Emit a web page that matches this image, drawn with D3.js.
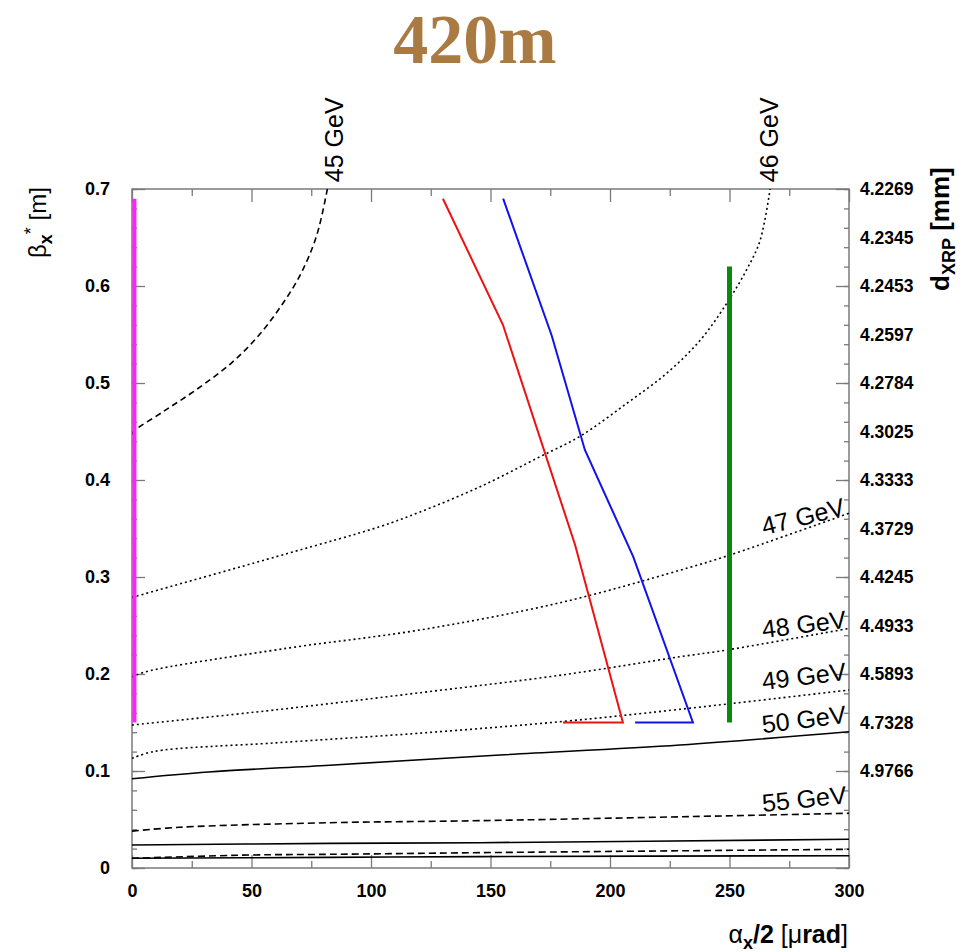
<!DOCTYPE html>
<html>
<head>
<meta charset="utf-8">
<script src="https://cdn.jsdelivr.net/npm/d3@7"></script>
<style>
  body { margin: 0; background: #fff; }
  svg { display: block; }
</style>
</head>
<body>
<script>
var w = 980;
var h = 952;

// axis ticks
var xMajor = [0, 50, 100, 150, 200, 250, 300];
var xMinor = [25, 75, 125, 175, 225, 275];
var yMajor = [0, 0.1, 0.2, 0.3, 0.4, 0.5, 0.6, 0.7];
var yMinor = d3.range(0, 0.701, 0.02);
var rightBeta = [0.7, 0.65, 0.6, 0.55, 0.5, 0.45, 0.4, 0.35, 0.3, 0.25, 0.2, 0.15, 0.1];
var rightLabels = ["4.2269", "4.2345", "4.2453", "4.2597", "4.2784", "4.3025", "4.3333",
                   "4.3729", "4.4245", "4.4933", "4.5893", "4.7328", "4.9766"];

// energy curves [alpha/2, beta*]
var e45 = [[0, 0.447], [0.5, 0.4498], [13.1, 0.4705], [27.1, 0.4935], [41.0, 0.5193], [52.2, 0.5467],
           [61.9, 0.5777], [70.3, 0.611], [77.3, 0.6523], [82.5, 0.71]];
var e46 = [[0, 0.279], [64.7, 0.324], [103.8, 0.352], [120.5, 0.367], [145.6, 0.393], [170.7, 0.424],
           [187.4, 0.445], [207, 0.479], [223.7, 0.51], [237.7, 0.544], [248.8, 0.582],
           [257.2, 0.617], [262.8, 0.647], [267.6, 0.71]];
var e47 = [[0, 0.197], [5.9, 0.2024], [64.7, 0.2265], [120.5, 0.2454], [180, 0.274],
           [229.3, 0.307], [250.2, 0.3227], [300, 0.3657]];
var e48 = [[0, 0.1474], [60, 0.163], [120.5, 0.1807], [180, 0.199], [229.3, 0.2178],
           [248.8, 0.2247], [300, 0.247]];
var e49 = [[0, 0.113], [8.9, 0.12], [60, 0.129], [120.5, 0.139], [180, 0.151],
           [229.3, 0.1636], [300, 0.1835]];
var e50 = [[0, 0.092], [32, 0.099], [82.8, 0.106], [154, 0.1165], [229.3, 0.1268], [300, 0.1405]];
var e55 = [[0, 0.038], [20, 0.042], [82.8, 0.0467], [145.6, 0.0488], [300, 0.0564]];
var eLowA = [[0, 0.0237], [82.8, 0.0254], [145.6, 0.0261], [300, 0.0296]];
var eLowB = [[0, 0.010], [49.4, 0.0134], [82.8, 0.0141], [145.6, 0.0158], [300, 0.0193]];
var eLowC = [[0, 0.010], [82.8, 0.011], [145.6, 0.0117], [300, 0.0127]];

// acceptance limits
var redLimit = [[130.1, 0.69], [155.2, 0.56], [185.4, 0.333], [205.4, 0.15], [180.3, 0.15]];
var blueLimit = [[155.3, 0.69], [175.6, 0.549], [189.5, 0.431], [209.7, 0.321], [234.7, 0.15], [210.5, 0.15]];
var magentaLimit = [[1, 0.69], [1, 0.15]];
var greenLimit = [[250, 0.62], [250, 0.15]];

var svg = d3.select("body").append("svg")
  .attr("width", w)
  .attr("height", h);

var x = d3.scaleLinear().domain([0, 300]).range([132, 849]);
var y = d3.scaleLinear().domain([0, 0.7]).range([868, 189]);

var frameColor = "#7a7a7a";

// title
svg.append("text")
  .attr("x", 475)
  .attr("y", 63)
  .attr("text-anchor", "middle")
  .attr("font-family", "'Liberation Serif', 'DejaVu Serif', serif")
  .attr("font-weight", "bold")
  .attr("font-size", 70)
  .attr("fill", "#a97b42")
  .text("420m");

// frame
svg.append("rect")
  .attr("x", x(0))
  .attr("y", y(0.7))
  .attr("width", x(300) - x(0))
  .attr("height", y(0) - y(0.7))
  .attr("fill", "none")
  .attr("stroke", frameColor)
  .attr("stroke-width", 1.5);

function styleAxis(g) {
  g.select(".domain").remove();
  g.selectAll(".tick line").attr("stroke", frameColor).attr("stroke-width", 1.3);
  g.selectAll("text")
    .attr("font-family", "'Liberation Sans', Arial, sans-serif")
    .attr("font-weight", "bold")
    .attr("font-size", 18)
    .attr("fill", "#000");
}

// bottom
svg.append("g").attr("transform", "translate(0," + y(0) + ")")
  .call(d3.axisBottom(x).tickValues(xMajor).tickSizeInner(-13).tickSizeOuter(0).tickPadding(16).tickFormat(d3.format("d")))
  .call(styleAxis);
svg.append("g").attr("transform", "translate(0," + y(0) + ")")
  .call(d3.axisBottom(x).tickValues(xMinor).tickSizeInner(-7).tickSizeOuter(0).tickFormat(""))
  .call(styleAxis);
// top
svg.append("g").attr("transform", "translate(0," + y(0.7) + ")")
  .call(d3.axisTop(x).tickValues(xMajor).tickSizeInner(-13).tickSizeOuter(0).tickFormat(""))
  .call(styleAxis);
svg.append("g").attr("transform", "translate(0," + y(0.7) + ")")
  .call(d3.axisTop(x).tickValues(xMinor).tickSizeInner(-7).tickSizeOuter(0).tickFormat(""))
  .call(styleAxis);
// left
svg.append("g").attr("transform", "translate(" + x(0) + ",0)")
  .call(d3.axisLeft(y).tickValues(yMinor).tickSizeInner(-5).tickSizeOuter(0).tickFormat(""))
  .call(styleAxis);
svg.append("g").attr("transform", "translate(" + x(0) + ",0)")
  .call(d3.axisLeft(y).tickValues(yMajor).tickSizeInner(-13).tickSizeOuter(0).tickPadding(22).tickFormat(d3.format(".1~f")))
  .call(styleAxis);
// right
svg.append("g").attr("transform", "translate(" + x(300) + ",0)")
  .call(d3.axisRight(y).tickValues(yMinor).tickSizeInner(-5).tickSizeOuter(0).tickFormat(""))
  .call(styleAxis);
svg.append("g").attr("transform", "translate(" + x(300) + ",0)")
  .call(d3.axisRight(y).tickValues(yMajor).tickSizeInner(-13).tickSizeOuter(0).tickFormat(""))
  .call(styleAxis);
svg.append("g").attr("transform", "translate(" + x(300) + ",0)")
  .call(d3.axisRight(y).tickValues(rightBeta).tickSize(0).tickPadding(11)
    .tickFormat(function(d, i) { return rightLabels[i]; }))
  .call(styleAxis)
  .call(function(g) { g.selectAll("text").attr("font-size", 17.5); });

// axis titles
var yTitle = svg.append("text")
  .attr("transform", "translate(46,258) rotate(-90)")
  .attr("font-family", "'Liberation Sans', Arial, sans-serif")
  .attr("font-size", 24);
yTitle.append("tspan").text("β");
yTitle.append("tspan").attr("font-weight", "bold").attr("font-size", 18).attr("dy", 6).text("x");
yTitle.append("tspan").attr("font-size", 18).attr("dy", -15).text("*");
yTitle.append("tspan").attr("dy", 9).text(" [m]");

var rTitle = svg.append("text")
  .attr("transform", "translate(949,291) rotate(-90)")
  .attr("font-family", "'Liberation Sans', Arial, sans-serif")
  .attr("font-weight", "bold")
  .attr("font-size", 26);
rTitle.append("tspan").text("d");
rTitle.append("tspan").attr("font-size", 18).attr("dy", 6).text("XRP");
rTitle.append("tspan").attr("dy", -6).text(" [mm]");

var xTitle = svg.append("text")
  .attr("x", 848)
  .attr("y", 943)
  .attr("text-anchor", "end")
  .attr("font-family", "'Liberation Sans', Arial, sans-serif")
  .attr("font-size", 25);
xTitle.append("tspan").text("α");
xTitle.append("tspan").attr("font-weight", "bold").attr("font-size", 18).attr("dy", 6).text("x");
xTitle.append("tspan").attr("font-weight", "bold").attr("dy", -6).text("/2 ");
xTitle.append("tspan").text("[μ");
xTitle.append("tspan").attr("font-weight", "bold").text("rad");
xTitle.append("tspan").text("]");

// clip
svg.append("clipPath").attr("id", "plot")
  .append("rect")
  .attr("x", x(0)).attr("y", y(0.7))
  .attr("width", x(300) - x(0)).attr("height", y(0) - y(0.7));

var smooth = d3.line()
  .x(function(d) { return x(d[0]); })
  .y(function(d) { return y(d[1]); })
  .curve(d3.curveCatmullRom.alpha(0.5));
var straight = d3.line()
  .x(function(d) { return x(d[0]); })
  .y(function(d) { return y(d[1]); });

var dotted = "2,3";
var dashed = "7,4";
var curves = [
  { pts: e45, dash: "6,4" },
  { pts: e46, dash: dotted },
  { pts: e47, dash: dotted },
  { pts: e48, dash: dotted },
  { pts: e49, dash: dotted },
  { pts: e50, dash: null },
  { pts: e55, dash: dashed },
  { pts: eLowA, dash: null },
  { pts: eLowB, dash: dashed },
  { pts: eLowC, dash: null }
];

var plot = svg.append("g").attr("clip-path", "url(#plot)");

plot.selectAll("path.energy")
  .data(curves)
  .enter()
  .append("path")
  .attr("class", "energy")
  .attr("d", function(d) { return smooth(d.pts); })
  .attr("fill", "none")
  .attr("stroke", "#000")
  .attr("stroke-width", 1.6)
  .attr("stroke-dasharray", function(d) { return d.dash; });

var limits = [
  { pts: redLimit, color: "#ee1111", width: 2 },
  { pts: blueLimit, color: "#1111ee", width: 2 },
  { pts: magentaLimit, color: "#ff22ff", width: 4 },
  { pts: greenLimit, color: "#0a8a0a", width: 5 }
];

svg.selectAll("path.limit")
  .data(limits)
  .enter()
  .append("path")
  .attr("class", "limit")
  .attr("d", function(d) { return straight(d.pts); })
  .attr("fill", "none")
  .attr("stroke", function(d) { return d.color; })
  .attr("stroke-width", function(d) { return d.width; });

// energy labels
var energyLabels = [
  { t: "45 GeV", ax: 88.3, by: 0.707, rot: -90 },
  { t: "46 GeV", ax: 270.3, by: 0.707, rot: -90 },
  { t: "47 GeV", ax: 264.4, by: 0.343, rot: -14 },
  { t: "48 GeV", ax: 264.0, by: 0.237, rot: -7 },
  { t: "49 GeV", ax: 264.0, by: 0.1835, rot: -7 },
  { t: "50 GeV", ax: 264.0, by: 0.139, rot: -7 },
  { t: "55 GeV", ax: 264.0, by: 0.0577, rot: -6 }
];

svg.selectAll("text.elabel")
  .data(energyLabels)
  .enter()
  .append("text")
  .attr("class", "elabel")
  .attr("transform", function(d) {
    return "translate(" + x(d.ax) + "," + y(d.by) + ") rotate(" + d.rot + ")";
  })
  .attr("font-family", "'Liberation Sans', Arial, sans-serif")
  .attr("font-size", 25)
  .attr("fill", "#000")
  .text(function(d) { return d.t; });
</script>
</body>
</html>
